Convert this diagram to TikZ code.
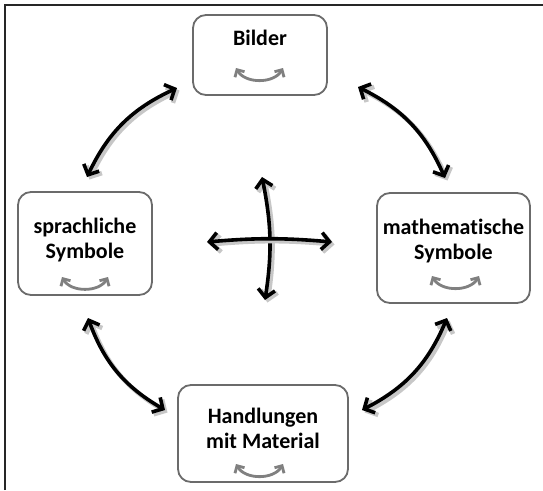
\documentclass[tikz,border=0pt]{standalone}
\usepackage{fontspec}
\setmainfont{Carlito}[Ligatures={NoCommon}]
\usetikzlibrary{arrows.meta}
\begin{document}
\begin{tikzpicture}[x=1pt,y=1pt,
  box/.style={draw=black!58, line width=1.8pt, rounded corners=13pt,
    inner sep=0pt, fill=white},
  label/.style={font=\bfseries\fontsize{22}{25}\selectfont, align=center,
    inner sep=0pt},
  bigarrow/.style={line width=3.6pt, black,
    {Straight Barb[length=8pt,width=17pt]}-{Straight Barb[length=8pt,width=17pt]},
    preaction={draw=black!22, line width=4.5pt,
      transform canvas={shift={(2.5pt,-2.5pt)}}}},
  swap/.style={line width=2.8pt, black!50,
    {Straight Barb[length=5.5pt,width=11pt]}-{Straight Barb[length=5.5pt,width=11pt]}}
]
% page and frame lines
\useasboundingbox (0,0) rectangle (543,-490);
\draw[line width=2pt, black!85] (5,-490) -- (5,-5) -- (543,-5);

% the four boxes
\node[box, minimum width=134pt, minimum height=80pt]  (bild) at (260,-55) {};
\node[box, minimum width=134pt, minimum height=103pt] (spr)  at (85,-243.5) {};
\node[box, minimum width=153pt, minimum height=110pt] (math) at (453.5,-248) {};
\node[box, minimum width=170pt, minimum height=97pt]  (hand) at (263,-433.5) {};

% box labels
\node[label, anchor=base] (tbild) at (260,-45) {Bilder};
\node[label] (tspr)  at (85,-240)    {sprachliche\\Symbole};
\node[label] (tmath) at (453.5,-241) {mathematische\\Symbole};
\node[label] (thand) at (263,-428)   {Handlungen\\mit Material};

% small swap arrows inside the boxes
\coordinate (sb1) at (236,-68);  \coordinate (sb2) at (283,-68);
\coordinate (ss1) at (62,-277);  \coordinate (ss2) at (108,-277);
\coordinate (sm1) at (432,-276); \coordinate (sm2) at (479,-276);
\coordinate (sh1) at (236,-464); \coordinate (sh2) at (283,-464);
\foreach \a/\b in {sb1/sb2, ss1/ss2, sm1/sm2, sh1/sh2}
  \draw[swap] (\a) to[out=-60,in=-120] (\b);

% arcs between the boxes
\coordinate (tl1) at (87,-177);  \coordinate (tl2) at (177,-88);
\coordinate (tr1) at (358,-87);  \coordinate (tr2) at (445,-178);
\coordinate (br1) at (447,-318); \coordinate (br2) at (362,-410);
\coordinate (bl1) at (165,-410); \coordinate (bl2) at (88,-318);
\draw[bigarrow] (tl1) to[bend left=20] (tl2);
\draw[bigarrow] (tr1) to[bend left=20] (tr2);
\draw[bigarrow] (br1) to[bend left=20] (br2);
\draw[bigarrow] (bl1) to[bend left=20] (bl2);

% central cross
\coordinate (cn) at (262,-177); \coordinate (cs) at (265,-300);
\coordinate (cw) at (207,-242); \coordinate (ce) at (332,-242);
\draw[bigarrow] (cn) to[bend left=10] (cs);
\draw[bigarrow] (cw) to[bend left=5] (ce);
\end{tikzpicture}
\end{document}
